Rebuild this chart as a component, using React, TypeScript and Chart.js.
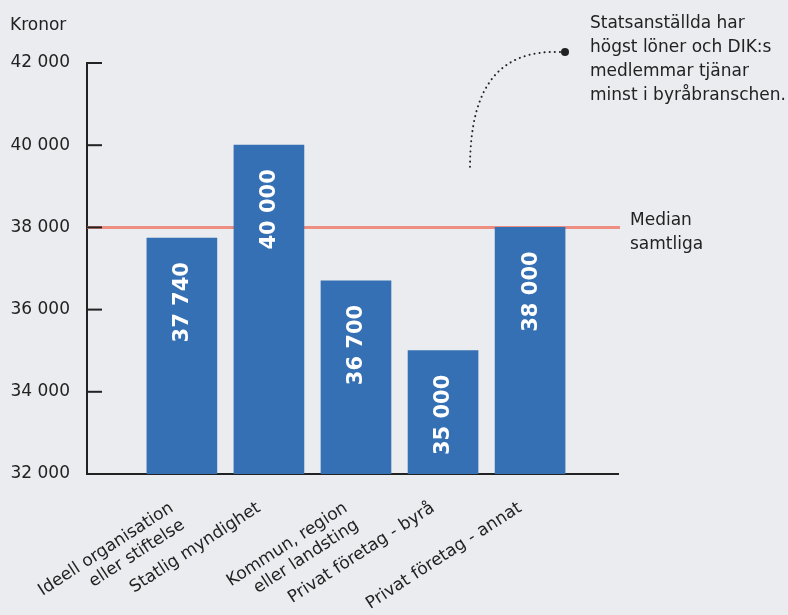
import React, { useEffect, useRef } from "react";
import { Chart, registerables } from "chart.js";

Chart.register(...registerables);

const categories: (string | string[])[] = [
  ["Ideell organisation", "eller stiftelse"],
  "Statlig myndighet",
  ["Kommun, region", "eller landsting"],
  "Privat företag - byrå",
  "Privat företag - annat",
];
const values = [37740, 40000, 36700, 35000, 38000];
const yMin = 32000;
const yMax = 42000;
const yStep = 2000;
const medianValue = 38000;
const medianLabel = ["Median", "samtliga"];
const axisTitle = "Kronor";
const annotationLines = [
  "Statsanställda har",
  "högst löner och DIK:s",
  "medlemmar tjänar",
  "minst i byråbranschen.",
];

const BG = "#ebecf0";
const BAR = "#3470b3";
const INK = "#222222";
const MEDIAN = "#ee8e80";
const FONT = "'DejaVu Sans', sans-serif";

const fmt = (v: number) => String(Math.round(v)).replace(/\B(?=(\d{3})+(?!\d))/g, " ");

const decor = {
  id: "decor",
  beforeDraw(chart: any) {
    const { ctx, width, height } = chart;
    ctx.save();
    ctx.fillStyle = BG;
    ctx.fillRect(0, 0, width, height);
    ctx.restore();
  },
  beforeDatasetsDraw(chart: any) {
    const { ctx, chartArea, scales } = chart;
    const y = scales.y.getPixelForValue(medianValue);
    ctx.save();
    ctx.strokeStyle = MEDIAN;
    ctx.lineWidth = 3;
    ctx.beginPath();
    ctx.moveTo(chartArea.left, y);
    ctx.lineTo(chartArea.right + 2, y);
    ctx.stroke();
    ctx.restore();
  },
  afterDatasetsDraw(chart: any) {
    const { ctx, chartArea, scales } = chart;
    const ys = scales.y;
    ctx.save();
    // inside ticks
    ctx.strokeStyle = INK;
    ctx.lineWidth = 2;
    for (let v = yMin + yStep; v <= yMax; v += yStep) {
      const py = ys.getPixelForValue(v);
      ctx.beginPath();
      ctx.moveTo(chartArea.left, py);
      ctx.lineTo(chartArea.left + 15, py);
      ctx.stroke();
    }
    // data labels
    const meta = chart.getDatasetMeta(0);
    ctx.fillStyle = "#ffffff";
    ctx.font = `bold 21px ${FONT}`;
    ctx.textAlign = "right";
    ctx.textBaseline = "middle";
    meta.data.forEach((bar: any, i: number) => {
      ctx.save();
      ctx.translate(bar.x, bar.y + 24);
      ctx.rotate(-Math.PI / 2);
      ctx.fillText(fmt(values[i]), 0, 1);
      ctx.restore();
    });
    // texts
    ctx.fillStyle = INK;
    ctx.font = `17px ${FONT}`;
    ctx.textAlign = "left";
    ctx.textBaseline = "alphabetic";
    ctx.fillText(axisTitle, 10, 30);
    const my = ys.getPixelForValue(medianValue);
    medianLabel.forEach((t, i) => ctx.fillText(t, 630, my - 2 + i * 24));
    annotationLines.forEach((t, i) => ctx.fillText(t, 590, 28 + i * 24));
    // annotation connector
    ctx.strokeStyle = INK;
    ctx.lineWidth = 2;
    ctx.lineCap = "round";
    ctx.setLineDash([0.1, 5]);
    ctx.beginPath();
    ctx.moveTo(560, 52);
    ctx.bezierCurveTo(500, 50, 470, 85, 470, 168);
    ctx.stroke();
    ctx.setLineDash([]);
    ctx.fillStyle = INK;
    ctx.beginPath();
    ctx.arc(565, 52, 4, 0, Math.PI * 2);
    ctx.fill();
    ctx.restore();
  },
};

export default function App() {
  const ref = useRef<HTMLCanvasElement | null>(null);
  useEffect(() => {
    document.body.style.margin = "0";
    document.body.style.background = BG;
    const chart = new Chart(ref.current as HTMLCanvasElement, {
      type: "bar",
      data: {
        datasets: [
          {
            data: values.map((v, i) => ({ x: i, y: v })),
            backgroundColor: BAR,
            barThickness: 70,
            borderWidth: 0,
          },
        ],
      },
      options: {
        animation: false,
        responsive: false,
        devicePixelRatio: 1,
        layout: { padding: { top: 63, right: 170, left: 0, bottom: 0 } },
        plugins: { legend: { display: false }, tooltip: { enabled: false } },
        scales: {
          x: {
            type: "linear",
            offset: false,
            min: -1.09,
            max: 5.01,
            grid: { display: false, drawTicks: false },
            border: { display: true, color: INK, width: 2 },
            afterFit: (s: any) => {
              s.height = 141;
            },
            ticks: {
              stepSize: 1,
              autoSkip: false,
              minRotation: 33,
              maxRotation: 33,
              padding: 24,
              labelOffset: -10,
              color: INK,
              font: { family: FONT, size: 17 },
              callback: (v: any) => {
                const n = Number(v);
                return Number.isInteger(n) && n >= 0 && n < categories.length ? categories[n] : "";
              },
            },
          },
          y: {
            min: yMin,
            max: yMax,
            grid: { display: false, drawTicks: false },
            border: { display: true, color: INK, width: 2 },
            afterFit: (s: any) => {
              s.width = 87;
            },
            ticks: {
              stepSize: yStep,
              padding: 17,
              color: INK,
              font: { family: FONT, size: 17 },
              callback: (v: any) => fmt(Number(v)),
            },
          },
        },
      },
      plugins: [decor],
    } as any);
    return () => chart.destroy();
  }, []);
  return (
    <div style={{ width: 788, height: 615 }}>
      <canvas ref={ref} width={788} height={615} style={{ display: "block" }} />
    </div>
  );
}
